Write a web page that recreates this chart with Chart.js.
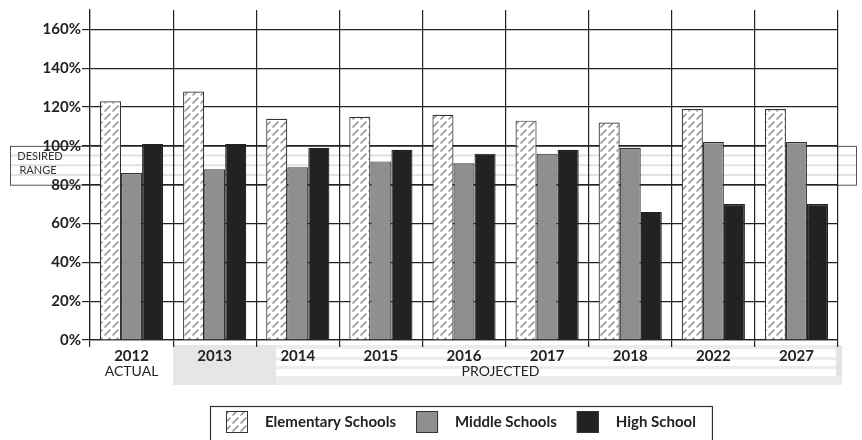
<!DOCTYPE html>
<html><head><meta charset="utf-8">
<script src="https://cdn.jsdelivr.net/npm/chart.js@4/dist/chart.umd.min.js"></script>
<style>html,body{margin:0;padding:0;background:#fff}#wrap{width:862px;height:440px}</style>
</head><body><div id="wrap"><canvas id="c" width="862" height="440"></canvas></div>
<script>
const categories = ['2012','2013','2014','2015','2016','2017','2018','2022','2027'];
const elementary = [123,128,114,115,116,113,112,119,119];
const middle     = [86,88,89,92,91,96,99,102,102];
const high       = [101,101,99,98,96,98,66,70,70];
const yTicks = [0,20,40,60,80,100,120,140,160];
const desiredRange = [80,100];
const seriesNames = ['Elementary Schools','Middle Schools','High School'];
const periodLabels = ['ACTUAL','PROJECTED'];
const rangeLabels = ['DESIRED','RANGE'];

const FONT = 'Lato, "Open Sans", sans-serif';

function hatchPattern(){
  const c=document.createElement('canvas'); c.width=8; c.height=8;
  const g=c.getContext('2d');
  g.fillStyle='#fff'; g.fillRect(0,0,8,8);
  g.strokeStyle='#8a8a8a'; g.lineWidth=1.5; g.lineCap='round';
  g.beginPath();
  g.moveTo(1,7); g.lineTo(6,2);
  g.stroke();
  return g.createPattern(c,'repeat');
}
const hatch = hatchPattern();
const colors = [hatch,'#8f8f8f','#222222'];

const decor = {
  id:'decor',
  beforeDraw(chart){
    const {ctx,chartArea,scales:{x,y}} = chart;
    ctx.save();
    // grey band under x axis for projected years
    const bx0 = (x.getPixelForValue(0)+x.getPixelForValue(1))/2;
    const bx1 = chartArea.right+4;
    const by0 = chartArea.bottom+5, by1 = chartArea.bottom+45;
    const bx2 = (x.getPixelForValue(1)+x.getPixelForValue(2))/2 + 20;
    ctx.fillStyle='#e6e6e6';
    ctx.fillRect(bx0,by0,bx2-bx0,by1-by0);
    ctx.fillStyle='#ececec';
    [[0,4],[12,15],[21,24],[31,40]].forEach(([a,b])=>ctx.fillRect(bx2,by0+a,bx1-bx2,b-a));
    ctx.fillStyle='#e3e3e3';
    ctx.fillRect(bx1-6,by0,6,by1-by0-8);
    // desired range box
    const ry0 = y.getPixelForValue(desiredRange[1]);
    const ry1 = y.getPixelForValue(desiredRange[0]);
    const rx0 = 10, rx1 = chart.width-6;
    ctx.strokeStyle='#e2e2e2'; ctx.lineWidth=2;
    [0.25,0.5,0.75].forEach(f=>{
      const yy = ry0+(ry1-ry0)*f;
      ctx.beginPath(); ctx.moveTo(rx0,yy); ctx.lineTo(rx1,yy); ctx.stroke();
    });
    ctx.strokeStyle='#555'; ctx.lineWidth=1;
    ctx.strokeRect(rx0+0.5,ry0+0.5,rx1-rx0,ry1-ry0);
    ctx.fillStyle='#333'; ctx.font='11px '+FONT; ctx.textAlign='center'; ctx.textBaseline='middle';
    ctx.fillText(rangeLabels[0],40,ry0+11);
    ctx.fillText(rangeLabels[1],38,ry0+25);
    ctx.restore();
  },
  afterDraw(chart){
    const {ctx,chartArea,scales:{x}} = chart;
    ctx.save();
    ctx.fillStyle='#222'; ctx.font='14px '+FONT; ctx.textAlign='center'; ctx.textBaseline='middle';
    ctx.fillText(periodLabels[0], x.getPixelForValue(0), chartArea.bottom+31);
    const px = (x.getPixelForValue(4)+x.getPixelForValue(5))/2 - 5;
    ctx.fillText(periodLabels[1], px, chartArea.bottom+31);
    // legend
    ctx.font='bold 15px '+FONT;
    const sw=22, gapT=17, gapI=20, padX=16;
    const widths = seriesNames.map(n=>ctx.measureText(n).width);
    let total = padX*2 + seriesNames.length*(sw+gapT) + widths.reduce((a,b)=>a+b,0) + gapI*(seriesNames.length-1);
    const cx = (chartArea.left+chartArea.right)/2 - 3;
    const lx0 = Math.round(cx-total/2), ly0=406, ly1=440;
    ctx.strokeStyle='#333'; ctx.lineWidth=1.2;
    ctx.strokeRect(lx0+0.5,ly0+0.5,total,ly1-ly0+4);
    let xx = lx0+padX; const cy = 422;
    seriesNames.forEach((n,i)=>{
      ctx.fillStyle=colors[i];
      ctx.fillRect(xx,cy-11,sw,sw);
      ctx.strokeStyle='#333'; ctx.lineWidth=1;
      ctx.strokeRect(xx+0.5,cy-10.5,sw-1,sw-1);
      xx += sw+gapT;
      ctx.fillStyle='#222'; ctx.textAlign='left'; ctx.textBaseline='middle';
      ctx.fillText(n,xx,cy);
      xx += widths[i]+gapI;
    });
    ctx.restore();
  }
};

new Chart(document.getElementById('c'),{
  type:'bar',
  data:{labels:categories,datasets:[
    {label:seriesNames[0],data:elementary,backgroundColor:colors[0],borderColor:'#333',borderWidth:1.2},
    {label:seriesNames[1],data:middle,backgroundColor:colors[1],borderColor:'#333',borderWidth:1.2},
    {label:seriesNames[2],data:high,backgroundColor:colors[2],borderColor:'#222',borderWidth:1.2}
  ]},
  options:{
    responsive:false, animation:false, devicePixelRatio:1,
    layout:{padding:{left:0,right:24,top:8,bottom:0}},
    datasets:{bar:{categoryPercentage:0.76,barPercentage:1}},
    plugins:{legend:{display:false},tooltip:{enabled:false}},
    scales:{
      x:{
        grid:{color:'#222',lineWidth:1.2,tickLength:7,offset:true},
        border:{color:'#222',width:1.2},
        ticks:{color:'#222',font:{family:FONT,weight:'bold',size:15},padding:0,autoSkip:false,maxRotation:0},
        afterFit(a){a.height=100;}
      },
      y:{
        min:0,max:170,
        afterBuildTicks(a){a.ticks=yTicks.map(v=>({value:v}));},
        grid:{color:'#222',lineWidth:1.2,tickLength:8},
        border:{color:'#222',width:1.2},
        ticks:{color:'#222',font:{family:FONT,weight:'bold',size:15},padding:1,callback:v=>v+'%'},
        afterFit(a){a.width=90;}
      }
    }
  },
  plugins:[decor]
});
</script></body></html>
